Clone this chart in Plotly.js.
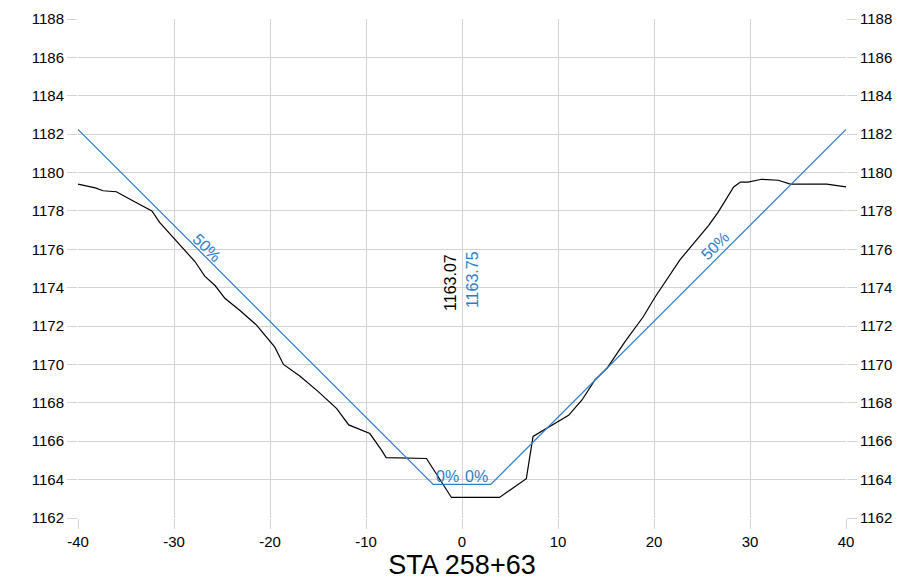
<!DOCTYPE html>
<html>
<head>
<meta charset="utf-8">
<script src="https://cdn.plot.ly/plotly-3.0.1.min.js"></script>
<style>html,body{margin:0;padding:0;background:#fff;}#chart{width:902px;height:581px;}</style>
</head>
<body>
<div id="chart"></div>
<script>
// Ground (existing terrain) profile: offset (ft) and elevation
const groundOffset = [-40, -38.2, -37.4, -36.0, -34.2, -32.3, -31.5, -29.7, -27.8, -26.8, -25.7, -24.7, -23.1, -21.4, -19.5, -18.6, -16.9, -15.0, -13.05, -11.8, -9.6, -8.4, -7.9, -3.7, -1.1, 3.9, 6.7, 7.4, 8.8, 11.1, 12.5, 13.85, 15.1, 17.0, 18.9, 20.1, 22.7, 25.7, 26.7, 28.3, 29.0, 29.8, 31.2, 32.95, 34.2, 36.6, 38.0, 40];
const groundElev = [1179.4, 1179.2, 1179.05, 1179.0, 1178.5, 1178.0, 1177.4, 1176.4, 1175.35, 1174.6, 1174.1, 1173.45, 1172.8, 1172.05, 1170.9, 1170.0, 1169.4, 1168.6, 1167.7, 1166.85, 1166.4, 1165.55, 1165.15, 1165.1, 1163.07, 1163.07, 1164.05, 1166.25, 1166.67, 1167.35, 1168.15, 1169.2, 1169.8, 1171.2, 1172.5, 1173.5, 1175.45, 1177.25, 1177.95, 1179.25, 1179.5, 1179.5, 1179.65, 1179.6, 1179.4, 1179.4, 1179.4, 1179.25];

// Design template: offset and elevation
const designOffset = [-40, -3, 3, 40];
const designElev = [1182.25, 1163.75, 1163.75, 1182.25];

// Labels
const slopeLabels = ["50%", "0%", "0%", "50%"];
const slopeLabelX = [-26.6, -1.55, 1.5, 26.4];
const slopeLabelY = [1176.1, 1164.15, 1164.15, 1176.2];
const slopeLabelAngle = [45, 0, 0, -45];
const elevLabels = ["1163.07", "1163.75"];
const elevLabelX = [-1.15, 1.05];
const elevLabelY = [1174.3, 1174.4];
const stationTitle = "STA 258+63";
const xTicks = [-40, -30, -20, -10, 0, 10, 20, 30, 40];
const yTicks = [1162, 1164, 1166, 1168, 1170, 1172, 1174, 1176, 1178, 1180, 1182, 1184, 1186, 1188];

const BLUE = '#2f7dc8';
const GRID = '#d3d3d3';
const FONT = 'Liberation Sans, Arial, sans-serif';

const traces = [
  {x: groundOffset, y: groundElev, type: 'scatter', mode: 'lines', line: {color: '#000', width: 1.2}, hoverinfo: 'skip', showlegend: false},
  {x: designOffset, y: designElev, type: 'scatter', mode: 'lines', line: {color: BLUE, width: 1.2}, yaxis: 'y2', hoverinfo: 'skip', showlegend: false}
];

const annotations = [];
slopeLabels.forEach((t, i) => annotations.push({
  x: slopeLabelX[i], y: slopeLabelY[i], xref: 'x', yref: 'y', text: t, showarrow: false,
  textangle: slopeLabelAngle[i], font: {family: FONT, size: 16, color: BLUE}
}));
elevLabels.forEach((t, i) => annotations.push({
  x: elevLabelX[i], y: elevLabelY[i], xref: 'x', yref: 'y', text: t, showarrow: false,
  textangle: -90, font: {family: FONT, size: 16, color: i === 0 ? '#000' : BLUE}
}));

const yCommon = {
  range: [1162, 1188], tickvals: yTicks, ticktext: yTicks.map(String),
  ticks: 'outside', ticklen: 10, tickcolor: GRID, tickwidth: 1,
  zeroline: false, showline: false, fixedrange: true,
  tickfont: {family: FONT, size: 15, color: '#000'}
};

const layout = {
  width: 902, height: 581,
  margin: {l: 78, r: 56, t: 19, b: 63},
  paper_bgcolor: '#fff', plot_bgcolor: '#fff',
  font: {family: FONT},
  xaxis: {
    range: [-40, 40], tickvals: xTicks, ticktext: xTicks.map(String),
    showgrid: true, gridcolor: GRID, gridwidth: 1,
    ticks: 'outside', ticklen: 10, tickcolor: GRID,
    zeroline: false, showline: false,
    tickfont: {family: FONT, size: 15, color: '#000'},
    title: {text: stationTitle, font: {family: FONT, size: 27, color: '#000'}, standoff: 4}
  },
  yaxis: Object.assign({}, yCommon, {showgrid: true, gridcolor: GRID, gridwidth: 1}),
  yaxis2: Object.assign({}, yCommon, {overlaying: 'y', side: 'right', showgrid: false}),
  annotations: annotations,
  showlegend: false
};

Plotly.newPlot('chart', traces, layout, {staticPlot: true, displayModeBar: false});
</script>
</body>
</html>
